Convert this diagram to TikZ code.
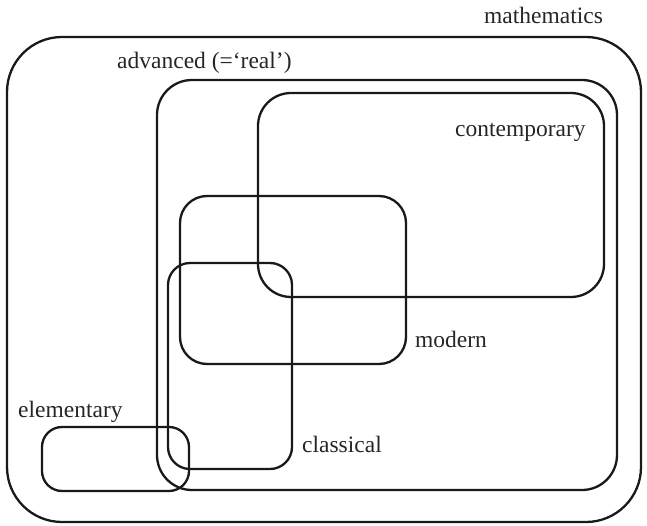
\documentclass[tikz,border=0pt]{standalone}
\usepackage{fontspec}
\setmainfont{Liberation Serif}
\begin{document}
\begin{tikzpicture}[x=1pt,y=-1pt,
  region/.style={draw=black!90,line width=2.3pt},
  lbl/.style={inner sep=0pt,anchor=base west,font=\fontsize{23.5}{28}\selectfont,text=black!85}]
\useasboundingbox (0,0) rectangle (647,526);
% mathematics
\draw[region,rounded corners=55pt] (7,37) rectangle (641,522);
% advanced
\draw[region,rounded corners=35pt] (157,80) rectangle (617,490);
% contemporary
\draw[region,rounded corners=33pt] (258,93) rectangle (604,297);
% modern
\draw[region,rounded corners=27pt] (180,196) rectangle (406,364);
% classical
\draw[region,rounded corners=22pt] (168,263) rectangle (292,469);
% elementary
\draw[region,rounded corners=20pt] (42,427) rectangle (189,491);
% labels
\node[lbl] (lmath) at (484,24) {mathematics};
\node[lbl] (ladv) at (117,69) {advanced (=‘real’)};
\node[lbl] (lcont) at (455,137) {contemporary};
\node[lbl] (lmod) at (415,347) {modern};
\node[lbl] (lclass) at (302,452) {classical};
\node[lbl] (lelem) at (18,417) {elementary};
\end{tikzpicture}
\end{document}
